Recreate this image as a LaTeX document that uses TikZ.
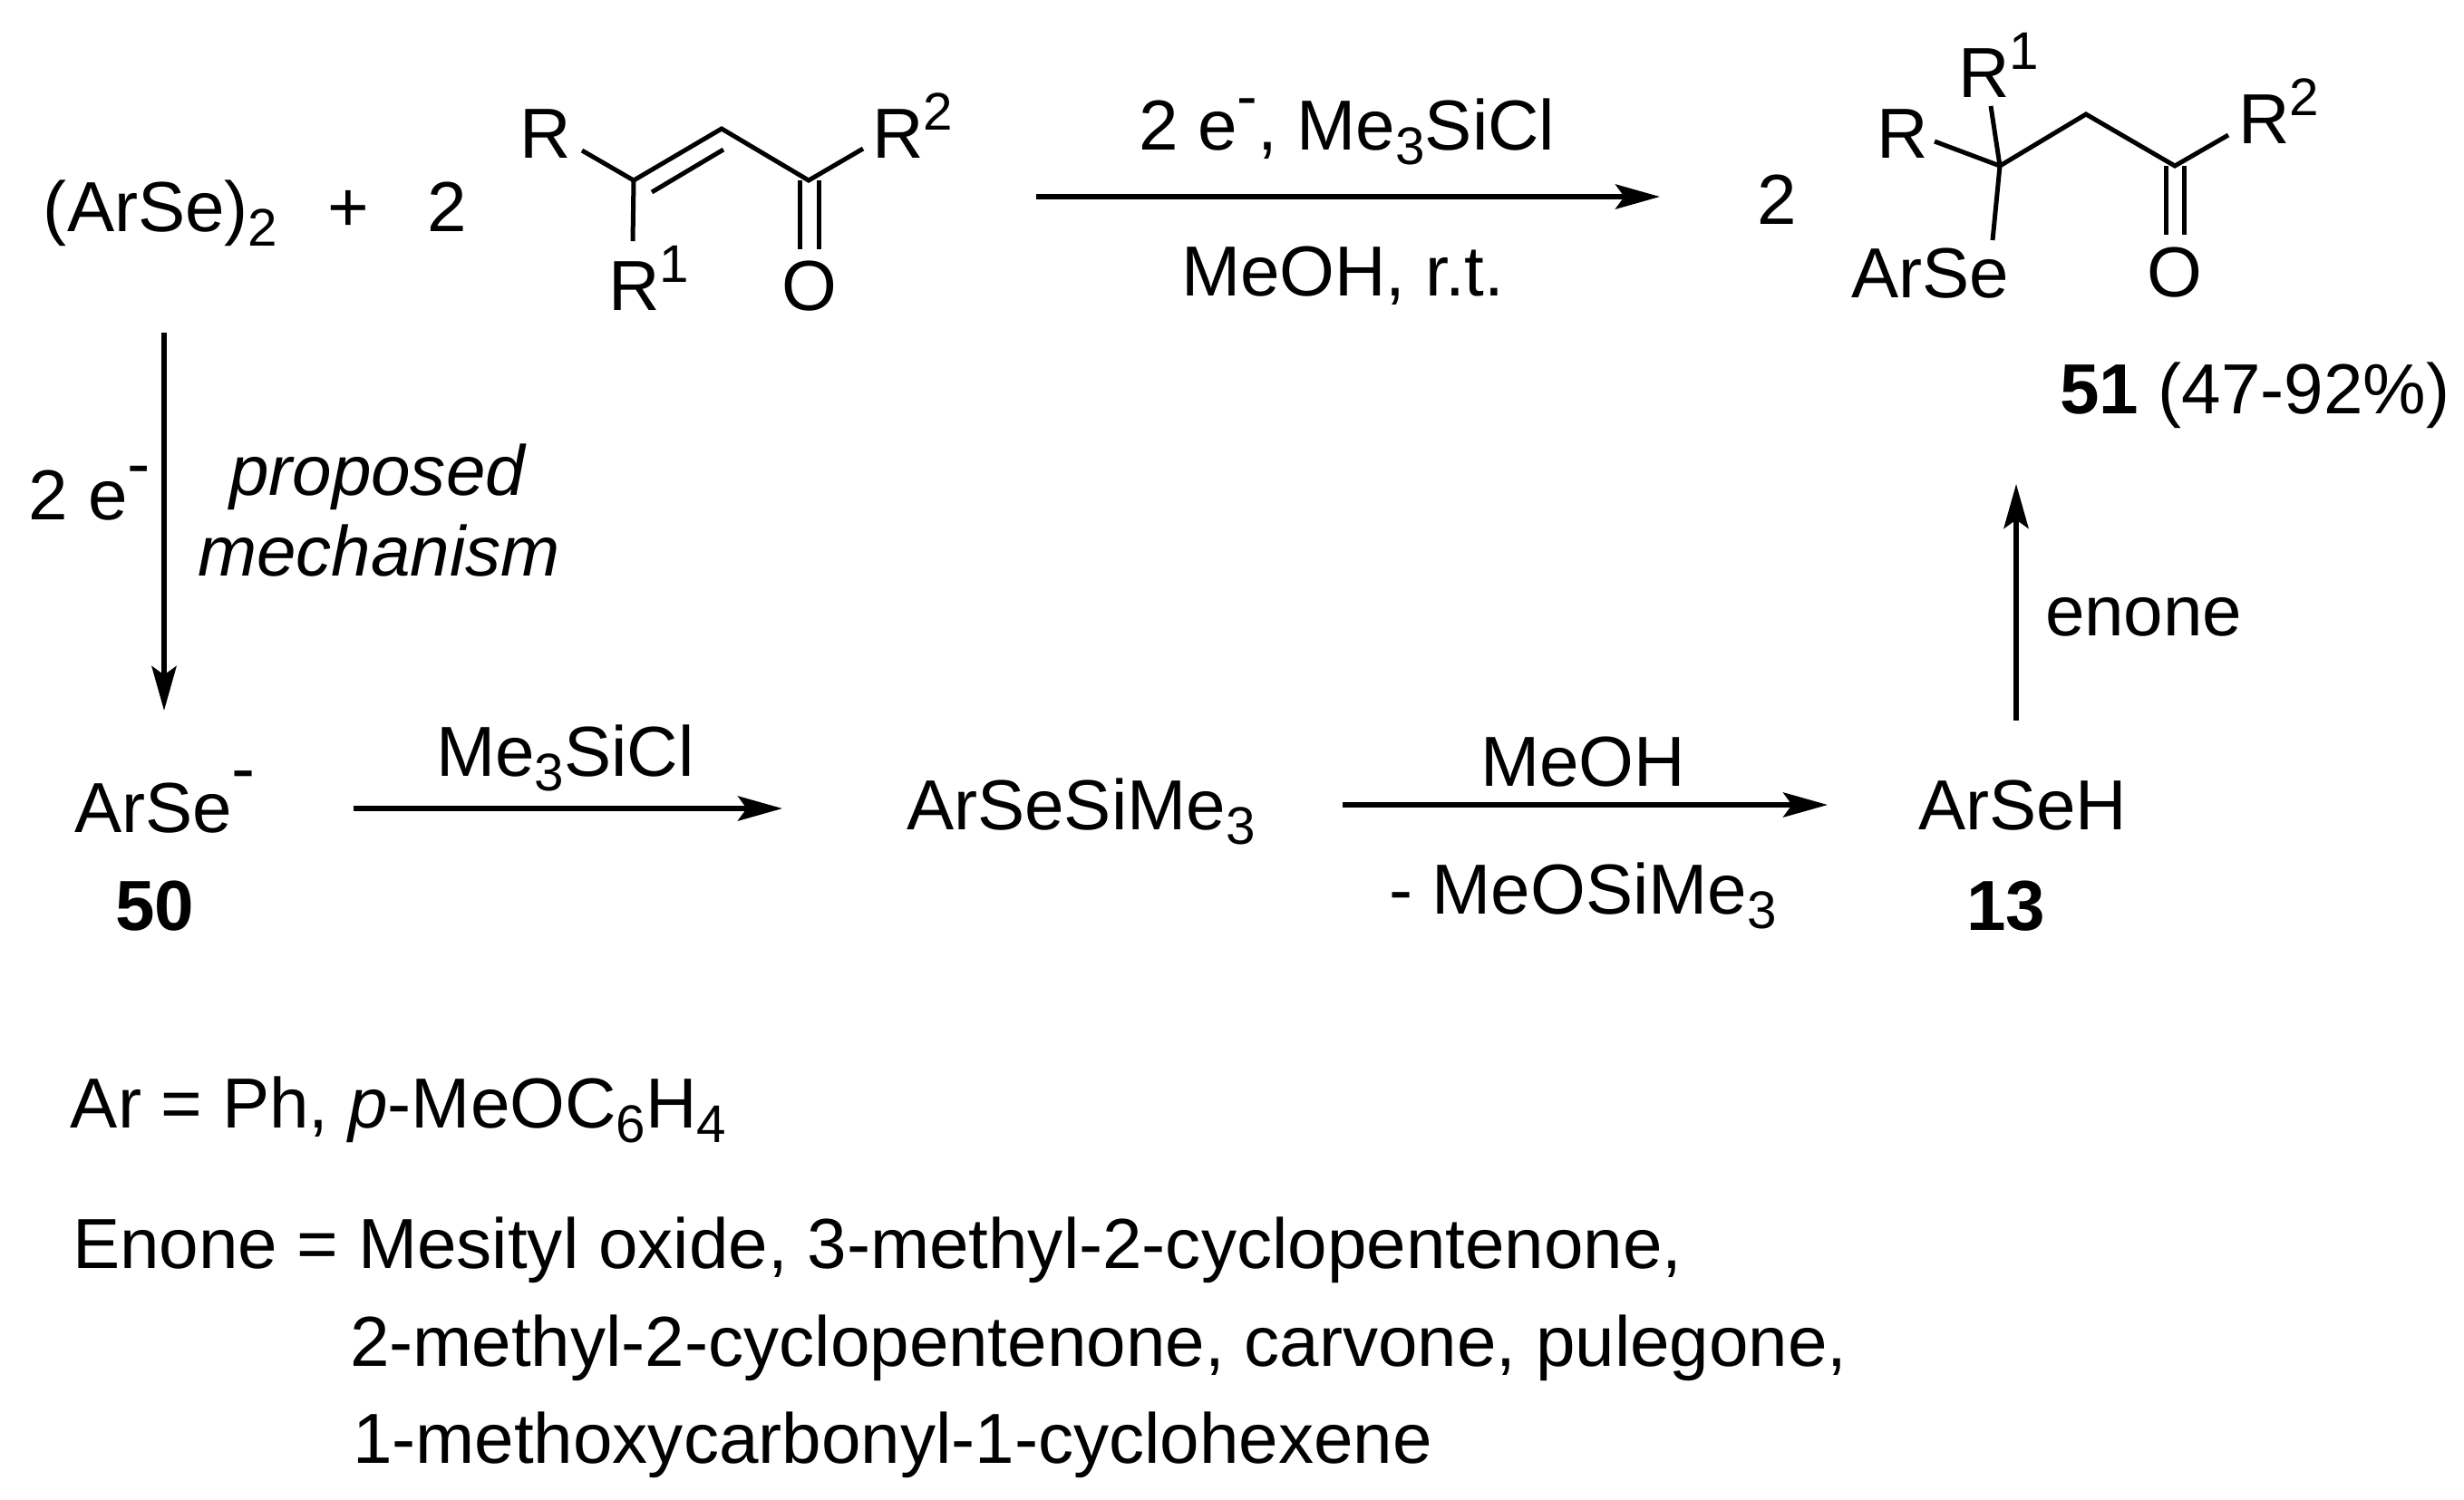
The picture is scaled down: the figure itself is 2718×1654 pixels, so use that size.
\documentclass[tikz,border=0pt]{standalone}
\usepackage{fontspec}
\setmainfont{Liberation Sans}
\usetikzlibrary{arrows.meta}
\newcommand{\sbsc}[1]{\raisebox{-4pt}{\fontsize{14.6pt}{14.6pt}\selectfont #1}}
\newcommand{\spsc}[1]{\raisebox{7.75pt}{\fontsize{14.6pt}{14.6pt}\selectfont #1}}
\newcommand{\mns}[2]{\raisebox{#1}{\fontsize{#2}{#2}\selectfont -}}
\tikzset{
  txt/.style={anchor=base west,inner sep=0pt,outer sep=0pt,font=\fontsize{19.55pt}{23pt}\selectfont},
  bond/.style={line width=1.25pt,line join=miter},
  rxn/.style={line width=1.35pt,-{Stealth[length=12.25pt,width=6.8pt,inset=2.4pt]}}
}
\begin{document}
\begin{tikzpicture}[x=0.25pt,y=-0.25pt]
\useasboundingbox (0,0) rectangle (2718,1654);
% text, top row
\node[txt] (arse2) at (48,255) {(ArSe)\sbsc{2}};
\node[txt] (plus) at (361,255) {+};
\node[txt] (two) at (471,255) {2};
\node[txt] (eR) at (573,174) {R};
\node[txt] (eR1) at (671,342) {R\spsc{1}};
\node[txt,anchor=base] (eO) at (893,342) {O};
\node[txt] (eR2) at (962,174) {R\spsc{2}};
\node[txt] (top) at (1256,165) {2 e\mns{9pt}{17pt}, Me\sbsc{3}SiCl};
\node[txt] (bot) at (1303,326) {MeOH, r.t.};
\node[txt] (two2) at (1938,247) {2};
\node[txt] (pR1) at (2160,107) {R\spsc{1}};
\node[txt] (pR) at (2070,174) {R};
\node[txt] (pR2) at (2469,158) {R\spsc{2}};
\node[txt] (pArSe) at (2042,328) {ArSe};
\node[txt,anchor=base] (pO) at (2399,327) {O};
\node[txt] (p51) at (2272,456) {\textbf{51} (47-92\%)};
% text, mechanism
\node[txt] (te) at (32,573) {2 e\mns{9pt}{19pt}};
\node[txt] (prop) at (253,546) {\textit{proposed}};
\node[txt] (mech) at (218,635) {\textit{mechanism}};
\node[txt] (arse) at (82,918) {ArSe\mns{11pt}{19.55pt}};
\node[txt] (n50) at (127,1026) {\textbf{50}};
\node[txt] (tms) at (481,856) {Me\sbsc{3}SiCl};
\node[txt] (arsetms) at (1000,915) {ArSeSiMe\sbsc{3}};
\node[txt] (meoh) at (1633,867) {MeOH};
\node[txt] (meotms) at (1532,1008) {- MeOSiMe\sbsc{3}};
\node[txt] (arseh) at (2116,915) {ArSeH};
\node[txt] (n13) at (2169,1026) {\textbf{13}};
\node[txt] (enone) at (2256,701) {enone};
% footnotes
\node[txt] (ar) at (78,1244) {Ar = Ph, \textit{p}-MeOC\sbsc{6}H\sbsc{4}};
\node[txt] (en1) at (80,1399) {Enone = Mesityl oxide, 3-methyl-2-cyclopentenone,};
\node[txt] (en2) at (386,1507) {2-methyl-2-cyclopentenone, carvone, pulegone,};
\node[txt] (en3) at (389,1614) {1-methoxycarbonyl-1-cyclohexene};
% enone skeleton
\coordinate (a1) at (642,166);
\coordinate (a2) at (699,199);
\coordinate (a3) at (796,142);
\coordinate (a4) at (892,199);
\coordinate (a5) at (952,164);
\coordinate (a6) at (698,266);
\coordinate (a7) at (719,212);
\coordinate (a8) at (798,165);
\coordinate (a9) at (882,199);
\coordinate (a10) at (882,275);
\coordinate (a11) at (903,199);
\coordinate (a12) at (903,275);
\draw[bond] (a1)--(a2)--(a3)--(a4)--(a5);
\draw[bond] (a2)--(a6);
\draw[bond] (a7)--(a8);
\draw[bond] (a9)--(a10);
\draw[bond] (a11)--(a12);
% product skeleton
\coordinate (b1) at (2134,156);
\coordinate (b2) at (2206,183);
\coordinate (b3) at (2196,117);
\coordinate (b4) at (2301,126);
\coordinate (b5) at (2399,183);
\coordinate (b6) at (2458,149);
\coordinate (b7) at (2198,265);
\coordinate (b8) at (2389,183);
\coordinate (b9) at (2389,259);
\coordinate (b10) at (2409,183);
\coordinate (b11) at (2409,259);
\draw[bond] (b1)--(b2)--(b4)--(b5)--(b6);
\draw[bond] (b3)--(b2)--(b7);
\draw[bond] (b8)--(b9);
\draw[bond] (b10)--(b11);
% reaction arrows
\coordinate (r1s) at (1143,217);
\coordinate (r1e) at (1831,217);
\coordinate (r2s) at (181,367);
\coordinate (r2e) at (181,784);
\coordinate (r3s) at (390,892);
\coordinate (r3e) at (863,892);
\coordinate (r4s) at (1481,888);
\coordinate (r4e) at (2016,888);
\coordinate (r5s) at (2224,795);
\coordinate (r5e) at (2224,534);
\draw[rxn] (r1s)--(r1e);
\draw[rxn] (r2s)--(r2e);
\draw[rxn] (r3s)--(r3e);
\draw[rxn] (r4s)--(r4e);
\draw[rxn] (r5s)--(r5e);
\end{tikzpicture}
\end{document}
